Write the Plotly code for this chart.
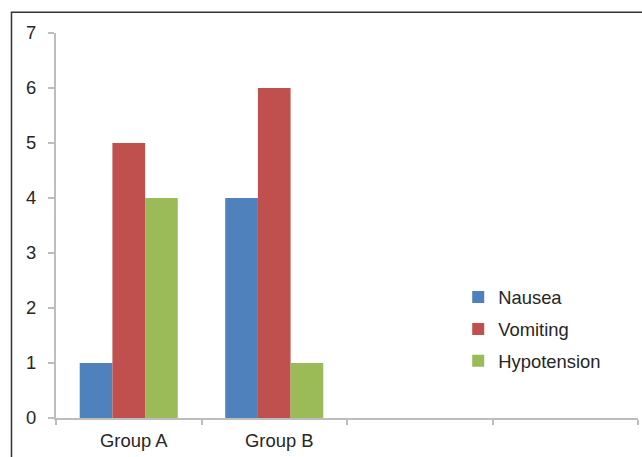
import plotly.graph_objects as go

# Adverse events per group
groups = ["Group A", "Group B"]
slots = ["Group A", "Group B", " ", "  "]
nausea = [1, 4]
vomiting = [5, 6]
hypotension = [4, 1]

series = [
    ("Nausea", nausea, "#4F81BD"),
    ("Vomiting", vomiting, "#C0504D"),
    ("Hypotension", hypotension, "#9BBB59"),
]

W, H = 642, 457
ML, MR, MT, MB = 56, 4.3, 33.3, 38.5
pw = W - ML - MR
ph = H - MT - MB

fig = go.Figure()
for name, vals, color in series:
    fig.add_trace(go.Bar(
        x=groups, y=vals, name=name, legendgroup=name,
        marker=dict(color=color, line=dict(width=0)),
    ))

font = dict(family="Liberation Sans, Arial, sans-serif", size=18.4, color="#262626")
axis_col = "#BDBDBD"

fig.update_layout(
    width=W, height=H,
    margin=dict(l=ML, r=MR, t=MT, b=MB, pad=0),
    paper_bgcolor="white", plot_bgcolor="white",
    barmode="group", bargap=0.326, bargroupgap=0,
    font=font,
    showlegend=True,
    legend=dict(
        x=(458 - ML) / pw, xanchor="left",
        y=1 - (279 - MT) / ph, yanchor="top",
        font=font, tracegroupgap=5, traceorder="grouped",
        bgcolor="rgba(0,0,0,0)", itemwidth=30,
    ),
    xaxis=dict(
        type="category", categoryorder="array", categoryarray=slots,
        range=[-0.5, 3.5], showline=True, linecolor=axis_col, linewidth=2,
        ticks="outside", tickson="boundaries", ticklen=5, tickcolor=axis_col,
        tickwidth=1.5, showgrid=False, zeroline=False, tickfont=font,
        ticklabelstandoff=5, ticklabelshift=5,
    ),
    yaxis=dict(
        range=[0, 7], dtick=1, showline=True, linecolor=axis_col, linewidth=2,
        ticks="outside", ticklen=6, tickcolor=axis_col, tickwidth=1.5,
        showgrid=False, zeroline=False, tickfont=font, ticklabelstandoff=8,
    ),
    shapes=[dict(
        type="rect", xref="paper", yref="paper",
        x0=(11.5 - ML) / pw, x1=1.2,
        y0=-0.3, y1=1 + (MT - 12.5) / ph,
        line=dict(color="#333333", width=1.5), fillcolor="rgba(0,0,0,0)",
        layer="below",
    )],
)

fig.write_html("out.html")
